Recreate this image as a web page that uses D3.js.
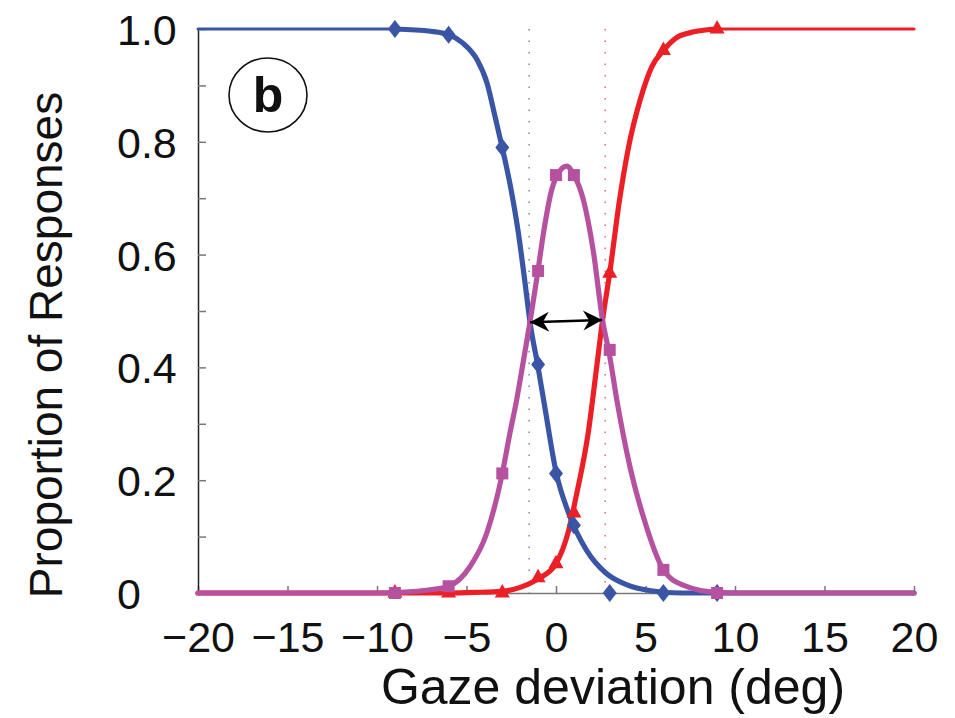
<!DOCTYPE html>
<html>
<head>
<meta charset="utf-8">
<script src="https://cdn.jsdelivr.net/npm/d3@7"></script>
<style>
  body { margin: 0; background: #fff; }
  text { font-family: "Liberation Sans", Arial, Helvetica, sans-serif; }
</style>
</head>
<body>
<svg id="chart" width="955" height="718"></svg>
<script>
// measured points (deg, proportion)
const stimX = [-9, -6, -3, -1, 0, 1, 3, 6, 9];
const leftResp = [1.0, 0.99, 0.79, 0.405, 0.212, 0.12, 0, 0, 0];
const rightResp = [0, 0, 0, 0.027, 0.052, 0.142, 0.567, 0.962, 1.0];
const centreResp = [0, 0.012, 0.212, 0.571, 0.741, 0.741, 0.431, 0.041, 0];

// fitted curves
const leftFitX = [-9, -7, -6, -5.2, -4.4, -3.85, -3.4, -3, -2.6, -2.1, -1.73, -1.45, -1, -0.6, 0, 0.7, 1.7, 2.8, 4, 5.3, 7, 20];
const leftFitY = [1, 0.996, 0.99, 0.975, 0.945, 0.904, 0.844, 0.789, 0.73, 0.638, 0.55, 0.48, 0.4, 0.325, 0.215, 0.142, 0.076, 0.035, 0.014, 0.004, 0, 0];
const rightFitX = [-20, -9, -6, -4.5, -3, -2, -1, 0, 0.7, 1.15, 1.8, 2.27, 2.6, 3, 3.55, 4.05, 4.7, 5.35, 6, 6.7, 7.7, 9];
const rightFitY = [0, 0, 0, 0.001, 0.003, 0.01, 0.025, 0.052, 0.11, 0.175, 0.284, 0.4, 0.484, 0.567, 0.697, 0.79, 0.874, 0.933, 0.962, 0.984, 0.995, 1];
const centreFitX = [-20, -10, -9, -7.5, -6, -4.8, -3.87, -3, -2.57, -2.2, -1.83, -1.45, -1, -0.7, -0.24, 0.2, 0.6, 1, 1.53, 2.09, 2.6, 3, 3.4, 4.13, 4.88, 6, 7.1, 9, 10.3, 20];
const centreFitY = [0, 0, 0.001, 0.004, 0.012, 0.047, 0.106, 0.212, 0.284, 0.342, 0.41, 0.481, 0.573, 0.638, 0.715, 0.748, 0.757, 0.741, 0.697, 0.605, 0.484, 0.42, 0.342, 0.224, 0.135, 0.041, 0.014, 0.001, 0, 0];

// flat extensions drawn thinner
const leftTailX = [-20, -9], leftTailY = [1, 1];
const rightTailX = [9, 20], rightTailY = [1, 1];

const boundaries = [-1.5, 2.75];
const arrowX = [-1.45, 2.58], arrowY = [0.48, 0.484];

const xTicks = [-20, -15, -10, -5, 0, 5, 10, 15, 20];
const yTicks = [0, 0.1, 0.2, 0.3, 0.4, 0.5, 0.6, 0.7, 0.8, 0.9, 1.0];
const yLabels = { 0: "0", 0.2: "0.2", 0.4: "0.4", 0.6: "0.6", 0.8: "0.8", 1: "1.0" };

const BLUE = "#3a55a5", RED = "#ec1f26", MAG = "#b5519f";

const svg = d3.select("#chart");
const x = d3.scaleLinear().domain([-20, 20]).range([198, 914]);
const y = d3.scaleLinear().domain([0, 1]).range([593, 29]);

// axes
const xAxis = d3.axisBottom(x).tickValues(xTicks).tickSizeInner(-7).tickSizeOuter(0).tickPadding(0);
const gx = svg.append("g").attr("transform", "translate(0,593)").call(xAxis);
gx.select(".domain").attr("stroke", "#777").attr("stroke-width", 1.5);
gx.selectAll(".tick line").attr("stroke", "#777").attr("stroke-width", 1.5);
gx.selectAll(".tick text").attr("y", 59).attr("dy", null)
  .attr("font-size", 43).attr("fill", "#111").attr("font-family", "'Liberation Sans', Arial, sans-serif");

const yAxis = d3.axisLeft(y).tickValues(yTicks).tickSizeInner(-8).tickSizeOuter(0)
  .tickFormat(d => yLabels[Math.round(d * 10) / 10] || "");
const gy = svg.append("g").attr("transform", "translate(198,0)").call(yAxis);
gy.select(".domain").attr("stroke", "#222").attr("stroke-width", 1.5);
gy.selectAll(".tick line").attr("stroke", "#777").attr("stroke-width", 1.5);
gy.selectAll(".tick text").attr("x", -81).attr("text-anchor", "start").attr("dy", "0.36em")
  .attr("font-size", 43).attr("fill", "#111").attr("font-family", "'Liberation Sans', Arial, sans-serif");

// axis titles
svg.append("text").attr("x", 613).attr("y", 704).attr("text-anchor", "middle")
  .attr("font-size", 50).attr("fill", "#111").text("Gaze deviation (deg)");
svg.append("text").attr("transform", "translate(62,345) rotate(-90)").attr("text-anchor", "middle")
  .attr("font-size", 46).attr("fill", "#111").text("Proportion of Responses");

// dotted boundary lines
svg.selectAll(".bound").data(boundaries).join("line")
  .attr("x1", d => x(d)).attr("x2", d => x(d))
  .attr("y1", y(1)).attr("y2", y(0))
  .attr("stroke", (d, i) => i === 0 ? "#7d8cca" : "#f07070")
  .attr("stroke-width", 1.6).attr("stroke-dasharray", "1.6,9.9");

const line = d3.line().x(d => x(d[0])).y(d => y(d[1])).curve(d3.curveMonotoneX);
const zip = (a, b) => a.map((v, i) => [v, b[i]]);

function drawFit(xs, ys, color, w) {
  svg.append("path").datum(zip(xs, ys)).attr("d", line)
    .attr("fill", "none").attr("stroke", color).attr("stroke-width", w)
    .attr("stroke-linejoin", "round").attr("stroke-linecap", "round");
}

drawFit(leftTailX, leftTailY, BLUE, 3);
drawFit(rightTailX, rightTailY, RED, 3.2);
drawFit(rightFitX, rightFitY, RED, 5.2);
drawFit(leftFitX, leftFitY, BLUE, 5.2);

// markers
const diamond = "M0,-9L7,0L0,9L-7,0Z";
const triangle = "M0,-9L7.5,4.5L-7.5,4.5Z";
const square = "M-6,-6H6V6H-6Z";

svg.selectAll(".tri").data(zip(stimX, rightResp)).join("path")
  .attr("d", triangle).attr("fill", RED)
  .attr("transform", d => `translate(${x(d[0])},${y(d[1])})`);
svg.selectAll(".dia").data(zip(stimX, leftResp)).join("path")
  .attr("d", diamond).attr("fill", BLUE)
  .attr("transform", d => `translate(${x(d[0])},${y(d[1])})`);

drawFit(centreFitX, centreFitY, MAG, 5.2);
svg.selectAll(".sq").data(zip(stimX, centreResp)).join("path")
  .attr("d", square).attr("fill", MAG)
  .attr("transform", d => `translate(${x(d[0])},${y(d[1])})`);

// double-headed arrow between the two boundaries
svg.append("defs").append("marker")
  .attr("id", "head").attr("markerUnits", "userSpaceOnUse")
  .attr("viewBox", "-20 -11 21 22").attr("refX", 0).attr("refY", 0)
  .attr("markerWidth", 21).attr("markerHeight", 22).attr("orient", "auto-start-reverse")
  .append("path").attr("d", "M0,0L-19,-10L-13,0L-19,10Z").attr("fill", "#000");
svg.append("line")
  .attr("x1", x(arrowX[0])).attr("y1", y(arrowY[0]))
  .attr("x2", x(arrowX[1])).attr("y2", y(arrowY[1]))
  .attr("stroke", "#000").attr("stroke-width", 2.6)
  .attr("marker-start", "url(#head)").attr("marker-end", "url(#head)");

// panel label
svg.append("ellipse").attr("cx", 268).attr("cy", 95).attr("rx", 39).attr("ry", 37)
  .attr("fill", "none").attr("stroke", "#111").attr("stroke-width", 1.6);
svg.append("text").attr("x", 268).attr("y", 112).attr("text-anchor", "middle")
  .attr("font-size", 50).attr("font-weight", "bold").attr("fill", "#111").text("b");
</script>
</body>
</html>
